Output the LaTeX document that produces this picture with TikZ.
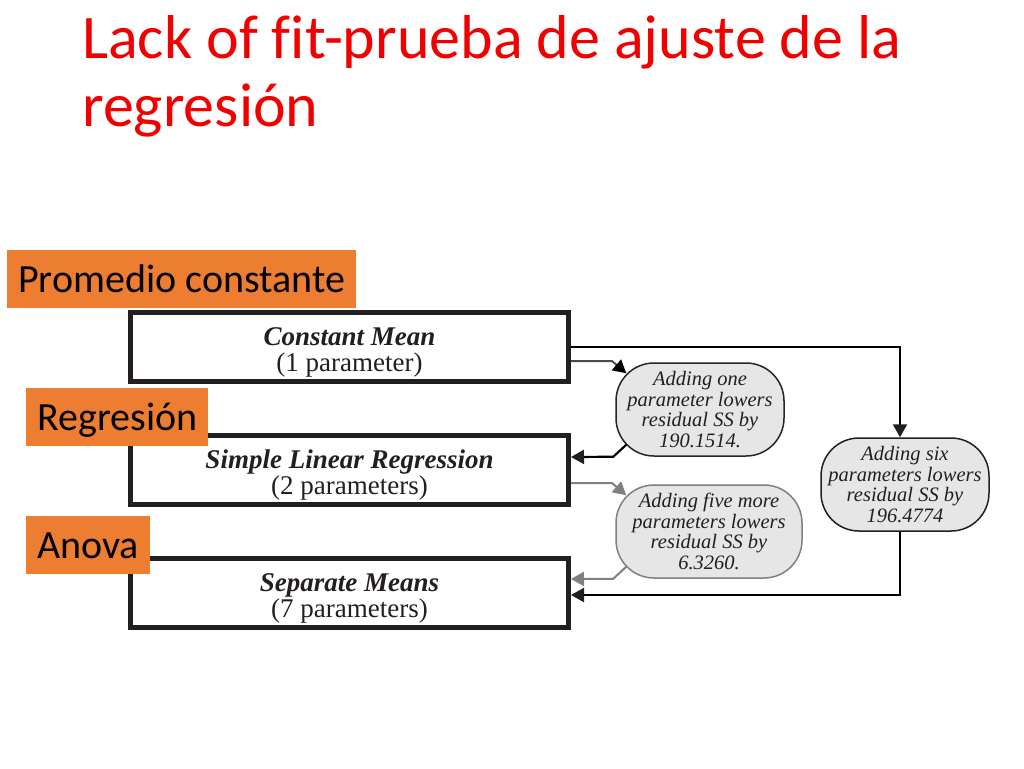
\documentclass[tikz,border=0pt]{standalone}
\usepackage{fontspec}
\setmainfont{Liberation Serif}
\newfontfamily\calibri{Carlito}[Ligatures=NoCommon]
\usetikzlibrary{arrows.meta}
\definecolor{slideorange}{HTML}{ED7D31}
\definecolor{titlered}{HTML}{F00000}
\definecolor{ink}{HTML}{231F20}
\definecolor{bubblefill}{HTML}{E6E6E6}
\begin{document}
\begin{tikzpicture}[x=1pt,y=-1pt,
  modelbox/.style={draw=ink, line width=5pt, minimum width=438pt, minimum height=69pt,
    align=center, text=ink, inner sep=0pt, font=\fontsize{27}{26}\selectfont},
  bubble/.style={draw, line width=1.5pt, fill=bubblefill, rounded corners=38pt,
    minimum width=168pt, minimum height=93pt, align=center, inner sep=0pt, text=ink,
    font=\fontsize{20.5}{20.5}\selectfont\itshape},
  tag/.style={fill=slideorange, anchor=north west, inner xsep=11pt, inner ysep=0pt,
    text height=42pt, text depth=16pt, text=black, font=\calibri\fontsize{40}{48}\selectfont},
  tip/.style={-{Triangle[length=13pt,width=14pt,#1]}},
  conn/.style={line width=2.2pt, tip=ink},
]
\useasboundingbox (0,0) rectangle (1024,768);
\fill[white] (0,0) rectangle (1024,768);

\node[anchor=base west, text=titlered, align=left, inner sep=0pt,
  font=\calibri\fontsize{62}{68}\selectfont] (title) at (82,126)
  {Lack of fit-prueba de ajuste de la\\regresión};

\node[modelbox] (cm) at (349.5,347)
  {\rule{0pt}{28pt}\textbf{\textit{Constant Mean}}\\(1 parameter)};
\node[modelbox] (slr) at (349.5,470)
  {\rule{0pt}{28pt}\textbf{\textit{Simple Linear Regression}}\\(2 parameters)};
\node[modelbox] (sm) at (349.5,593)
  {\rule{0pt}{28pt}\textbf{\textit{Separate Means}}\\(7 parameters)};

\node[bubble, draw=gray!30!black] (e1) at (700,409.5)
  {Adding one\\parameter lowers\\residual SS by\\190.1514.};
\node[bubble, draw=gray, minimum width=186pt] (e2) at (709,531.5)
  {Adding five more\\parameters lowers\\residual SS by\\6.3260.};
\node[bubble, draw=ink] (e3) at (905,484.5)
  {Adding six\\parameters lowers\\residual SS by\\196.4774};

\node[tag] (t1) at (7,250) {Promedio constante};
\node[tag] (t2) at (26,388) {Regresión};
\node[tag] (t3) at (26,516) {Anova};

\draw[conn] (cm.east) -| ([shift={(-5,0)}]e3.north);
\draw[line width=2pt, gray!60!black, tip=black]
  ([shift={(0,14)}]cm.east) -- ++(41,0) -- ([shift={(11,11)}]e1.north west);
\draw[conn] ([shift={(11,-12)}]e1.south west) -- ++(-13,12) -- ([shift={(0,-13)}]slr.east);
\draw[line width=2pt, gray, tip=gray] ([shift={(0,13)}]slr.east) -- ++(41,0) -- ([shift={(11,11)}]e2.north west);
\draw[line width=2pt, gray, tip=gray] ([shift={(11,-12)}]e2.south west) -- ++(-13,12) -- ([shift={(0,-14)}]sm.east);
\draw[conn] ([shift={(-5,0)}]e3.south) |- ([shift={(0,2)}]sm.east);
\end{tikzpicture}
\end{document}
